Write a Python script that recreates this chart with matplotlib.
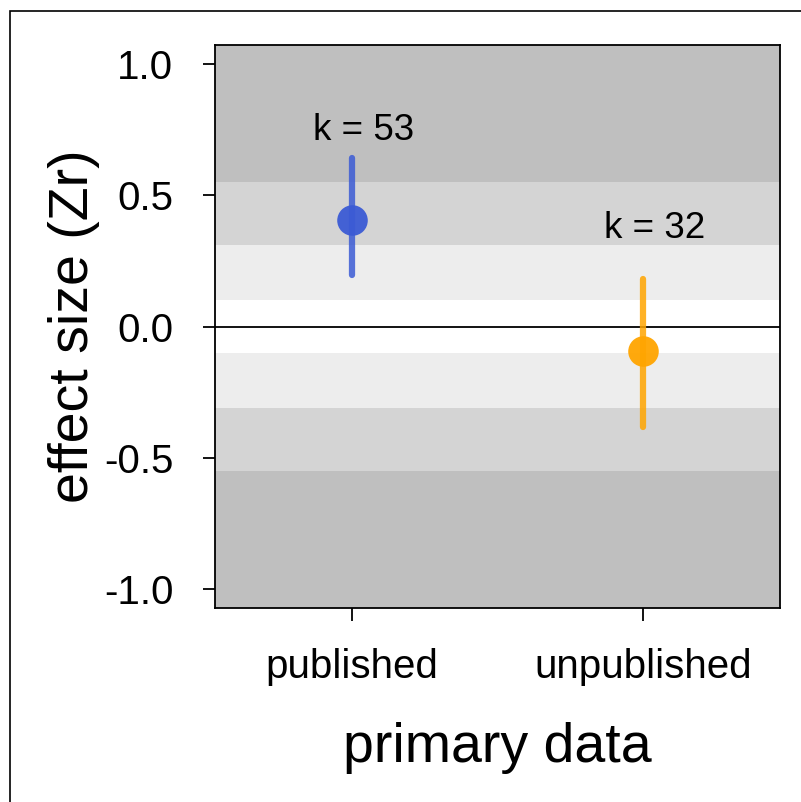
import matplotlib.pyplot as plt
import numpy as np
from matplotlib.patches import Rectangle

plt.rcParams['font.family'] = ['Liberation Sans', 'DejaVu Sans']

# data
groups = ["published", "unpublished"]
estimate = [0.405, -0.095]
ci_low = [0.195, -0.382]
ci_high = [0.641, 0.179]
k_labels = ["k = 53", "k = 32"]
k_y = [0.748, 0.372]
colors = ["#3b5bd5", "#ffa500"]

# benchmark bands (r = 0.1, 0.3, 0.5 on the Zr scale)
band_edges = np.arctanh([0.1, 0.3, 0.5])
band_colors = ["#ffffff", "#ededed", "#d4d4d4", "#bfbfbf"]

fig = plt.figure(figsize=(8.01, 8.02), dpi=100)
ax = fig.add_axes([215 / 801, 1 - 608 / 802, 565 / 801, 563 / 802])

ylim = (-1.072, 1.072)
edges = [0.0] + list(band_edges) + [ylim[1]]
for i in range(4):
    ax.axhspan(edges[i], edges[i + 1], color=band_colors[i], lw=0, zorder=0)
    ax.axhspan(-edges[i + 1], -edges[i], color=band_colors[i], lw=0, zorder=0)
ax.axhline(0, color="black", lw=1.3, zorder=1)

x = np.arange(1, len(groups) + 1)
for i in range(len(groups)):
    ax.plot([x[i], x[i]], [ci_low[i], ci_high[i]], color=colors[i], lw=4.5,
            alpha=0.85, solid_capstyle="round", zorder=2)
    ax.plot(x[i], estimate[i], "o", color=colors[i], ms=22, mew=0,
            alpha=0.95, zorder=3)
    ax.text(x[i] + 0.04, k_y[i], k_labels[i], ha="center", va="center",
            fontsize=26.5, zorder=4)

ax.set_xlim(0.53, 2.47)
ax.set_ylim(*ylim)
ax.set_xticks(x)
ax.set_xticklabels(groups, fontsize=29)
ax.set_yticks([-1.0, -0.5, 0.0, 0.5, 1.0])
ax.set_yticklabels(["-1.0", "-0.5", "0.0", "0.5", "1.0"], fontsize=29)
ax.tick_params(direction="out", length=9, width=1.3)
ax.tick_params(axis="y", pad=21)
ax.tick_params(axis="x", pad=20)
for s in ax.spines.values():
    s.set_linewidth(1.3)

ax.set_xlabel("primary data", fontsize=40, labelpad=26)
ax.set_ylabel("effect size (Zr)", fontsize=40, labelpad=3)

# outer frame, partly running off the image
fig.patches.append(Rectangle((9.5 / 801, -0.05), 1.1, 1 - 11 / 802 + 0.05,
                             transform=fig.transFigure, fill=False,
                             lw=1.2, ec="black"))

fig.savefig("out.png", dpi=100)
